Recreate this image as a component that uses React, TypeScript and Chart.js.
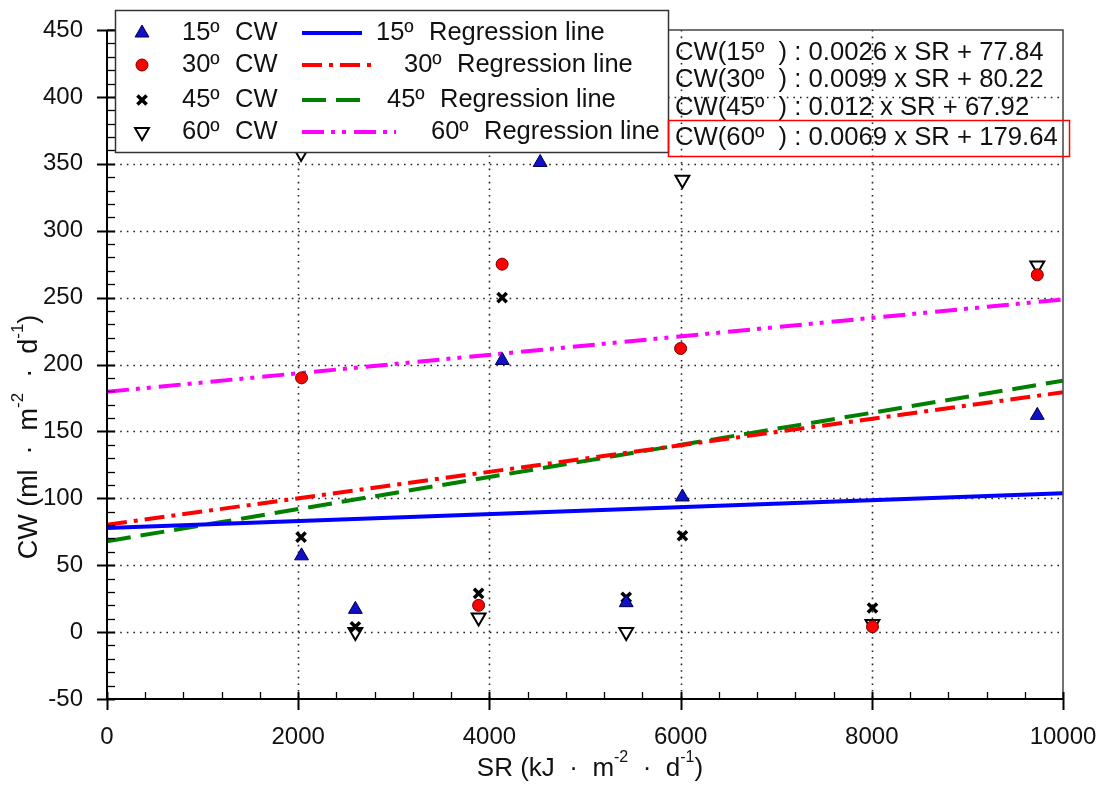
import React, { useEffect, useRef } from "react";
import { Chart, registerables } from "chart.js";

Chart.register(...registerables);

// ---------- data ----------
const cw15X = [2035, 2598, 4135, 4531, 5431, 6019, 9731];
const cw15Y = [57, 17, 203, 351, 22, 101, 162];
const cw30X = [2035, 3887, 4133, 6000, 8007, 9731];
const cw30Y = [190, 20, 275, 212, 4, 267];
const cw45X = [2030, 2598, 3887, 4133, 5431, 6019, 8007];
const cw45Y = [71, 4, 29, 250, 26, 72, 18];
const cw60X = [2030, 2598, 3887, 5431, 6019, 8007, 9731];
const cw60Y = [358, 0, 11, 0, 338, 6, 274];

const angleLabels = ["15º", "30º", "45º", "60º"];
const regSlopes = [0.0026, 0.0099, 0.012, 0.0069];
const regIntercepts = [77.84, 80.22, 67.92, 179.64];
const regRange = [0, 10000];

const xTickMin = 0;
const xTickMax = 10000;
const xTickStep = 2000;
const yTickMin = -50;
const yTickMax = 450;
const yTickStep = 50;

// ---------- styles ----------
const FONT = "'Liberation Sans', Arial, sans-serif";
const lineColors = ["#0000ff", "#ff0000", "#008000", "#ff00ff"];
const lineDashes: number[][] = [[], [20, 7, 4, 7], [24, 10], [22, 7, 4, 7, 4, 8]];

const pointStyles = [
  { pointStyle: "triangle", radius: 8, rotation: 0, bg: "#1010c8", border: "#000050", bw: 1 },
  { pointStyle: "circle", radius: 6, rotation: 0, bg: "#ff0000", border: "#700000", bw: 1 },
  { pointStyle: "crossRot", radius: 6.5, rotation: 0, bg: "#000", border: "#000", bw: 3.5 },
  { pointStyle: "triangle", radius: 8, rotation: 180, bg: "#ffffff", border: "#000", bw: 2 },
];

type Part = { t: string; sup?: boolean };

function drawRich(ctx: CanvasRenderingContext2D, parts: Part[], cx: number, cy: number, size: number) {
  const supSize = Math.round(size * 0.62);
  let total = 0;
  const widths = parts.map((p) => {
    ctx.font = `${p.sup ? supSize : size}px ${FONT}`;
    const w = ctx.measureText(p.t).width;
    total += w;
    return w;
  });
  let x = cx - total / 2;
  ctx.textBaseline = "middle";
  ctx.textAlign = "left";
  parts.forEach((p, i) => {
    ctx.font = `${p.sup ? supSize : size}px ${FONT}`;
    ctx.fillText(p.t, x, p.sup ? cy - size * 0.42 : cy);
    x += widths[i];
  });
}

function drawMarker(ctx: CanvasRenderingContext2D, idx: number, x: number, y: number) {
  const s = pointStyles[idx];
  ctx.save();
  ctx.fillStyle = s.bg;
  ctx.strokeStyle = s.border;
  ctx.lineWidth = s.bw;
  ctx.setLineDash([]);
  const r = s.radius;
  if (s.pointStyle === "circle") {
    ctx.beginPath();
    ctx.arc(x, y, r, 0, Math.PI * 2);
    ctx.fill();
    ctx.stroke();
  } else if (s.pointStyle === "triangle") {
    const sign = s.rotation === 180 ? -1 : 1;
    ctx.beginPath();
    for (let k = 0; k < 3; k++) {
      const a = (k * 2 * Math.PI) / 3;
      const px = x + Math.sin(a) * r;
      const py = y - sign * Math.cos(a) * r;
      if (k === 0) ctx.moveTo(px, py);
      else ctx.lineTo(px, py);
    }
    ctx.closePath();
    ctx.fill();
    ctx.stroke();
  } else {
    const o = Math.cos(Math.PI / 4) * r;
    ctx.beginPath();
    ctx.moveTo(x - o, y - o);
    ctx.lineTo(x + o, y + o);
    ctx.moveTo(x + o, y - o);
    ctx.lineTo(x - o, y + o);
    ctx.stroke();
  }
  ctx.restore();
}

const decorPlugin = {
  id: "decor",
  beforeDatasetsDraw(chart: any) {
    const { ctx, chartArea: a, scales } = chart;
    const xs = scales.x;
    const ys = scales.y;
    ctx.save();
    ctx.strokeStyle = "#222";
    ctx.lineWidth = 1.6;
    ctx.setLineDash([1.6, 5]);
    for (let v = xTickMin + xTickStep; v < xTickMax; v += xTickStep) {
      const px = Math.round(xs.getPixelForValue(v)) + 0.5;
      ctx.beginPath();
      ctx.moveTo(px, a.top);
      ctx.lineTo(px, a.bottom);
      ctx.stroke();
    }
    for (let v = yTickMin + yTickStep; v < yTickMax; v += yTickStep) {
      const py = Math.round(ys.getPixelForValue(v)) + 0.5;
      ctx.beginPath();
      ctx.moveTo(a.left, py);
      ctx.lineTo(a.right, py);
      ctx.stroke();
    }
    ctx.restore();
  },
  afterDatasetsDraw(chart: any) {
    const { ctx, chartArea: a, scales } = chart;
    const xs = scales.x;
    const ys = scales.y;
    ctx.save();
    ctx.setLineDash([]);
    // top & right frame
    ctx.strokeStyle = "#444";
    ctx.lineWidth = 1.5;
    ctx.beginPath();
    ctx.moveTo(a.left, a.top);
    ctx.lineTo(a.right, a.top);
    ctx.lineTo(a.right, a.bottom);
    ctx.stroke();
    // axes
    ctx.strokeStyle = "#000";
    ctx.lineWidth = 2;
    ctx.beginPath();
    ctx.moveTo(a.left, a.top);
    ctx.lineTo(a.left, a.bottom);
    ctx.lineTo(a.right, a.bottom);
    ctx.stroke();
    // y ticks
    for (let v = yTickMin; v <= yTickMax; v += 10) {
      const py = Math.round(ys.getPixelForValue(v)) + 0.5;
      const major = (v - yTickMin) % yTickStep === 0;
      ctx.lineWidth = major ? 2 : 1.3;
      ctx.beginPath();
      ctx.moveTo(major ? a.left - 10 : a.left, py);
      ctx.lineTo(a.left + 8, py);
      ctx.stroke();
    }
    // x ticks
    for (let v = xTickMin; v <= xTickMax; v += 400) {
      const px = Math.round(xs.getPixelForValue(v)) + 0.5;
      const major = (v - xTickMin) % xTickStep === 0;
      ctx.lineWidth = major ? 2 : 1.3;
      ctx.beginPath();
      ctx.moveTo(px, a.bottom - 7);
      ctx.lineTo(px, major ? a.bottom + 11 : a.bottom);
      ctx.stroke();
    }
    ctx.restore();
  },
  afterDraw(chart: any) {
    const { ctx } = chart;
    ctx.save();
    // legend box
    ctx.fillStyle = "#fff";
    ctx.fillRect(115, 10, 553, 142);
    ctx.strokeStyle = "#333";
    ctx.lineWidth = 1.5;
    ctx.setLineDash([]);
    ctx.strokeRect(115.5, 10.5, 553, 142);
    const rowY = [33, 65, 100, 132];
    const lineEnds = [362, 375, 360, 396];
    const regTextX = [376, 404, 387, 431];
    for (let i = 0; i < 4; i++) {
      drawMarker(ctx, i, 142, rowY[i]);
      ctx.fillStyle = "#111";
      ctx.font = `25.5px ${FONT}`;
      ctx.textBaseline = "middle";
      ctx.textAlign = "left";
      ctx.fillText(angleLabels[i], 182, rowY[i]);
      ctx.fillText("CW", 235, rowY[i]);
      ctx.strokeStyle = lineColors[i];
      ctx.lineWidth = 4;
      ctx.setLineDash(lineDashes[i]);
      ctx.beginPath();
      ctx.moveTo(302, rowY[i]);
      ctx.lineTo(lineEnds[i], rowY[i]);
      ctx.stroke();
      ctx.setLineDash([]);
      ctx.fillText(angleLabels[i], regTextX[i], rowY[i]);
      ctx.fillText("Regression line", regTextX[i] + 53, rowY[i]);
    }
    // equations
    const eqY = [53, 80, 108, 138];
    ctx.font = `25.7px ${FONT}`;
    ctx.textBaseline = "middle";
    ctx.textAlign = "left";
    ctx.fillStyle = "#111";
    for (let i = 0; i < 4; i++) {
      const txt = `CW(${angleLabels[i]}  ) : ${regSlopes[i]} x SR + ${regIntercepts[i]}`;
      ctx.fillText(txt, 675, eqY[i]);
    }
    ctx.strokeStyle = "#ff0000";
    ctx.lineWidth = 1.5;
    ctx.strokeRect(668.5, 120.5, 401, 36);
    // axis titles
    ctx.fillStyle = "#111";
    drawRich(
      ctx,
      [{ t: "SR (kJ  ·  m" }, { t: "-2", sup: true }, { t: "  ·  d" }, { t: "-1", sup: true }, { t: ")" }],
      590,
      769,
      26
    );
    ctx.translate(30, 437);
    ctx.rotate(-Math.PI / 2);
    drawRich(
      ctx,
      [{ t: "CW (ml  ·  m" }, { t: "-2", sup: true }, { t: "  ·  d" }, { t: "-1", sup: true }, { t: ")" }],
      0,
      0,
      27
    );
    ctx.restore();
  },
};

function toPoints(xs: number[], ys: number[]) {
  return xs.map((x, i) => ({ x, y: ys[i] }));
}

function zeroPad(s: any) {
  s.paddingLeft = 0;
  s.paddingRight = 0;
  s.paddingTop = 0;
  s.paddingBottom = 0;
}

export default function App() {
  const ref = useRef<HTMLCanvasElement | null>(null);
  useEffect(() => {
    document.body.style.margin = "0";
    const canvas = ref.current;
    if (!canvas) return;
    const seriesX = [cw15X, cw30X, cw45X, cw60X];
    const seriesY = [cw15Y, cw30Y, cw45Y, cw60Y];
    const scatterSets = seriesX.map((xs, i) => {
      const s = pointStyles[i];
      return {
        label: `${angleLabels[i]} CW`,
        data: toPoints(xs, seriesY[i]),
        pointStyle: s.pointStyle,
        pointRadius: s.radius,
        pointRotation: s.rotation,
        pointBackgroundColor: s.bg,
        pointBorderColor: s.border,
        pointBorderWidth: s.bw,
        showLine: false,
        order: 0,
      };
    });
    const lineSets = regSlopes.map((m, i) => ({
      label: `${angleLabels[i]} Regression line`,
      data: regRange.map((x) => ({ x, y: regIntercepts[i] + m * x })),
      showLine: true,
      borderColor: lineColors[i],
      borderWidth: 4,
      borderDash: lineDashes[i],
      borderCapStyle: "butt",
      pointRadius: 0,
      order: 1,
    }));
    const chart = new Chart(canvas, {
      type: "scatter",
      data: { datasets: [...scatterSets, ...lineSets] as any },
      options: {
        animation: false,
        responsive: false,
        devicePixelRatio: 1,
        layout: { padding: { top: 30, right: 46, left: 0, bottom: 0 } },
        plugins: { legend: { display: false }, tooltip: { enabled: false } },
        scales: {
          x: {
            type: "linear",
            min: xTickMin,
            max: xTickMax,
            ticks: {
              stepSize: xTickStep,
              color: "#111",
              font: { family: FONT, size: 24 },
              padding: 24,
              callback: (v: any) => String(v),
            },
            grid: { display: false, drawTicks: false },
            border: { display: false },
            afterFit: (s: any) => {
              s.height = 90;
              zeroPad(s);
            },
          },
          y: {
            type: "linear",
            min: yTickMin,
            max: yTickMax,
            ticks: {
              stepSize: yTickStep,
              color: "#111",
              font: { family: FONT, size: 24 },
              padding: 24,
              callback: (v: any) => String(v),
            },
            grid: { display: false, drawTicks: false },
            border: { display: false },
            afterFit: (s: any) => {
              s.width = 107;
              zeroPad(s);
            },
          },
        },
      } as any,
      plugins: [decorPlugin],
    });
    return () => chart.destroy();
  }, []);
  return (
    <div style={{ width: 1109, height: 789, background: "#fff" }}>
      <canvas ref={ref} width={1109} height={789} style={{ width: 1109, height: 789, display: "block" }} />
    </div>
  );
}
